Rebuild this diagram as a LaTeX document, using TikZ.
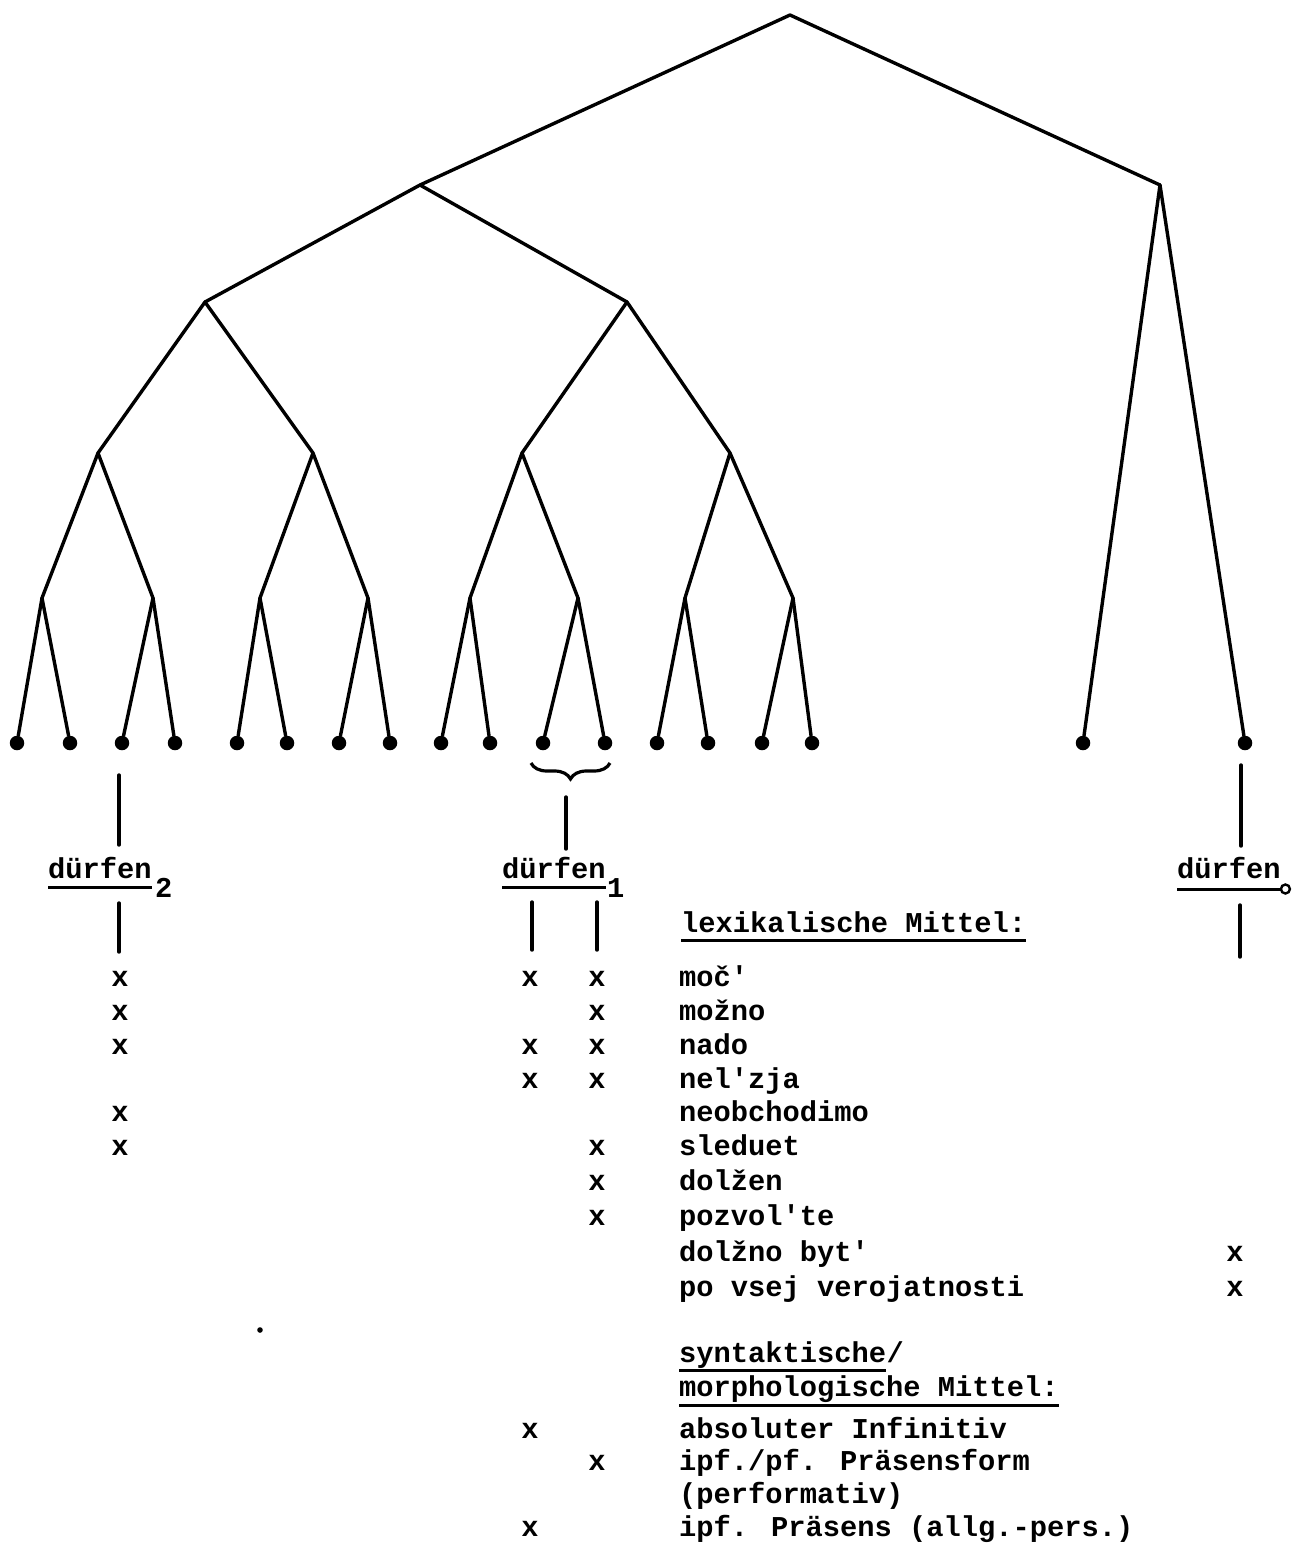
\documentclass[tikz,border=0pt]{standalone}
\usepackage{fontspec}
\newfontfamily\tw{Liberation Mono Bold}
\usetikzlibrary{decorations.pathreplacing}
\begin{document}
\begin{tikzpicture}[x=1pt,y=-1pt,
  edge/.style={line width=3.4pt, line cap=round},
  leaf/.style={circle, fill=black, inner sep=0pt, minimum size=14.5pt},
  txt/.style={anchor=base west, inner sep=0pt, font=\tw\fontsize{28.75}{34}\selectfont},
  xmk/.style={anchor=base, inner sep=0pt, font=\tw\fontsize{28.75}{34}\selectfont},
  ul/.style={line width=3pt},
]
\useasboundingbox (0,0) rectangle (1293,1548);

% ---------- tree ----------
\coordinate (root) at (790,15);
\coordinate (a)  at (420,185);
\coordinate (b)  at (1160,185);
\coordinate (a1) at (205,302);
\coordinate (a2) at (627,302);
\coordinate (c1) at (98,453);
\coordinate (c2) at (313,453);
\coordinate (c3) at (522,453);
\coordinate (c4) at (730,453);
\coordinate (e1) at (42,598);
\coordinate (e2) at (153,598);
\coordinate (e3) at (260,598);
\coordinate (e4) at (368,598);
\coordinate (e5) at (470,598);
\coordinate (e6) at (578,598);
\coordinate (e7) at (685,598);
\coordinate (e8) at (793,598);

\foreach \n/\x in {1/17,2/70,3/122,4/175,5/237,6/287,7/339,8/390,
                   9/441,10/490,11/543,12/605,13/657,14/708,15/762,16/812,
                   17/1083,18/1245}
  \node[leaf] (l\n) at (\x,743) {};

\draw[edge] (root) -- (a);
\draw[edge] (root) -- (b);
\draw[edge] (a) -- (a1);
\draw[edge] (a) -- (a2);
\draw[edge] (a1) -- (c1);
\draw[edge] (a1) -- (c2);
\draw[edge] (a2) -- (c3);
\draw[edge] (a2) -- (c4);
\draw[edge] (c1) -- (e1);
\draw[edge] (c1) -- (e2);
\draw[edge] (c2) -- (e3);
\draw[edge] (c2) -- (e4);
\draw[edge] (c3) -- (e5);
\draw[edge] (c3) -- (e6);
\draw[edge] (c4) -- (e7);
\draw[edge] (c4) -- (e8);
\foreach \p/\l/\r in {e1/1/2,e2/3/4,e3/5/6,e4/7/8,e5/9/10,e6/11/12,e7/13/14,e8/15/16,b/17/18}{
  \draw[edge] (\p) -- (l\l);
  \draw[edge] (\p) -- (l\r);
}

% brace under the pair of leaves
\draw[line width=3.2pt, decorate, decoration={brace, mirror, amplitude=16pt}]
  (531,763) -- (610,763);

% ---------- the three readings ----------
\node[txt] (d2) at (48,878) {dürfen};
\node[txt] at (155,897) {2};
\draw[ul] ([yshift=-9pt]d2.base west) -- ([yshift=-9pt]d2.base east);

\node[txt] (d1) at (502,878) {dürfen};
\node[txt] at (607,897) {1};
\draw[ul] ([yshift=-9pt]d1.base west) -- ([yshift=-9pt]d1.base east);

\node[txt] (d0) at (1177,878) {dürfen};
\coordinate (d0end) at ([yshift=-11pt]d0.base east);
\draw[ul] ([yshift=-11pt]d0.base west) -- (d0end);
\draw[line width=2.4pt] ([xshift=4.5pt]d0end) circle (4.5pt);

% vertical connectors
\coordinate (v2a) at (119,775);  \coordinate (v2b) at (119,845);
\coordinate (v2c) at (119,903);  \coordinate (v2d) at (119,952);
\draw[edge] (v2a) -- (v2b);
\draw[edge] (v2c) -- (v2d);

\coordinate (v1a) at (566,797);  \coordinate (v1b) at (566,849);
\draw[edge] (v1a) -- (v1b);
\coordinate (v1c) at (532,902);  \coordinate (v1d) at (532,950);
\coordinate (v1e) at (597,902);  \coordinate (v1f) at (597,950);
\draw[edge] (v1c) -- (v1d);
\draw[edge] (v1e) -- (v1f);

\coordinate (v0a) at (1241,765); \coordinate (v0b) at (1241,846);
\coordinate (v0c) at (1240,905); \coordinate (v0d) at (1240,957);
\draw[edge] (v0a) -- (v0b);
\draw[edge] (v0c) -- (v0d);

% ---------- lexical means ----------
\node[txt] (lexh) at (681,932) {lexikalische Mittel:};
\draw[ul] ([yshift=-8pt]lexh.base west) -- ([yshift=-8pt]lexh.base east);

\node[txt] (w1)  at (679,986)  {moč'};
\node[txt] (w2)  at (679,1020) {možno};
\node[txt] (w3)  at (679,1054) {nado};
\node[txt] (w4)  at (679,1088) {nel'zja};
\node[txt] (w5)  at (679,1121) {neobchodimo};
\node[txt] (w6)  at (679,1155) {sleduet};
\node[txt] (w7)  at (679,1190) {dolžen};
\node[txt] (w8)  at (679,1225) {pozvol'te};
\node[txt] (w9)  at (679,1261) {dolžno byt'};
\node[txt] (w10) at (679,1296) {po vsej verojatnosti};

% column of dürfen_2
\node[xmk] (x2a) at (120,986)  {x};
\node[xmk] (x2b) at (120,1020) {x};
\node[xmk] (x2c) at (120,1054) {x};
\node[xmk] (x2d) at (120,1121) {x};
\node[xmk] (x2e) at (120,1155) {x};
% columns of dürfen_1
\node[xmk] (x1a) at (530,986)  {x};
\node[xmk] (x1b) at (530,1054) {x};
\node[xmk] (x1c) at (530,1088) {x};
\node[xmk] (y1a) at (597,986)  {x};
\node[xmk] (y1b) at (597,1020) {x};
\node[xmk] (y1c) at (597,1054) {x};
\node[xmk] (y1d) at (597,1088) {x};
\node[xmk] (y1e) at (597,1155) {x};
\node[xmk] (y1f) at (597,1190) {x};
\node[xmk] (y1g) at (597,1225) {x};
% column of dürfen_0
\node[xmk] (x0a) at (1235,1261) {x};
\node[xmk] (x0b) at (1235,1296) {x};

\fill (260,1330) circle (2.8pt);

% ---------- syntactic / morphological means ----------
\node[txt] (syn) at (679,1362) {syntaktische};
\node[txt] at (syn.base east) {/};
\draw[ul] ([yshift=-8pt]syn.base west) -- ([yshift=-8pt]syn.base east);
\node[txt] (mor) at (679,1396) {morphologische Mittel:};
\draw[ul] ([yshift=-9pt]mor.base west) -- ([yshift=-9pt]mor.base east);

\node[txt] (s1) at (679,1438) {absoluter Infinitiv};
\node[txt] (s2) at (679,1470) {ipf./pf. Präsensform};
\node[txt] (s3) at (679,1503) {(performativ)};
\node[txt] (s4) at (679,1536) {ipf. Präsens (allg.-pers.)};
\node[xmk] (sx1) at (530,1438) {x};
\node[xmk] (sx2) at (597,1470) {x};
\node[xmk] (sx3) at (530,1536) {x};
\end{tikzpicture}
\end{document}
